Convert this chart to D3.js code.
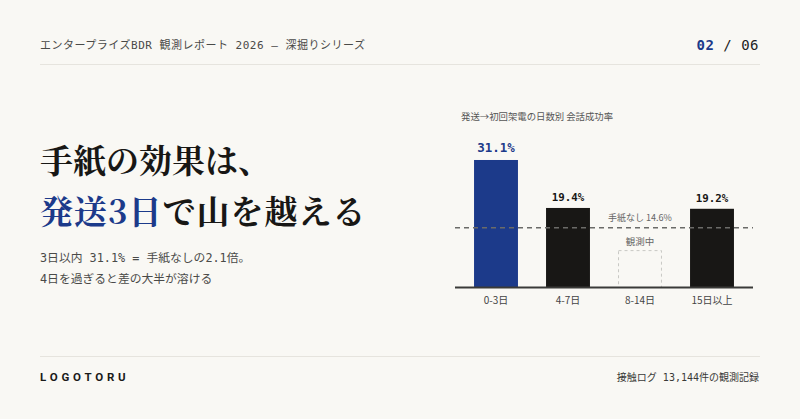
<!DOCTYPE html>
<html><head><meta charset="utf-8">
<script src="https://cdn.jsdelivr.net/npm/d3@7"></script>
<style>
html,body{margin:0;padding:0;background:#f9f8f4;}
svg{display:block;}
</style></head>
<body>
<svg id="c" width="800" height="419"></svg>
<script>
const categories = ["0-3日", "4-7日", "8-14日", "15日以上"];
const rates = [31.1, 19.4, null, 19.2];
const placeholderValue = 9.0;
const baselineRate = 14.6;
const valueLabels = ["31.1%", "19.4%", "", "19.2%"];
const highlight = [true, false, false, false];

const MONO = "'DejaVu Sans Mono','Noto Sans CJK JP',monospace";
const SANS = "'Noto Sans CJK JP','Noto Sans',sans-serif";
const SERIF = "'Noto Serif CJK JP','Noto Serif JP','Noto Sans CJK JP',serif";
const BLUE = "#1c3a8a", DARK = "#181715";

const svg = d3.select("#c");
svg.append("rect").attr("width",800).attr("height",419).attr("fill","#f9f8f4");

// header
svg.append("text").attr("x",40).attr("y",49).attr("font-family",MONO).attr("font-size",11)
  .attr("letter-spacing","0.5px").attr("fill","#4a4a48")
  .text("エンタープライズBDR 観測レポート 2026 — 深掘りシリーズ");
const pg = svg.append("text").attr("x",759).attr("y",50).attr("text-anchor","end")
  .attr("font-family",MONO).attr("font-size",14).attr("letter-spacing","0.5px");
pg.append("tspan").attr("fill",BLUE).attr("font-weight","bold").text("02");
pg.append("tspan").attr("fill","#222").text(" / 06");
svg.append("line").attr("x1",40).attr("x2",760).attr("y1",64.5).attr("y2",64.5)
  .attr("stroke","#e6e4de").attr("stroke-width",1);

// title
svg.append("text").attr("x",40).attr("y",173).attr("font-family",SERIF).attr("font-weight","bold")
  .attr("font-size",33).attr("fill",DARK).text("手紙の効果は、");
const t2 = svg.append("text").attr("x",40).attr("y",224).attr("font-family",SERIF)
  .attr("font-weight","bold").attr("font-size",33).attr("letter-spacing","1px");
t2.append("tspan").attr("fill",BLUE).text("発送3日");
t2.append("tspan").attr("fill",DARK).text("で山を越える");

svg.append("text").attr("x",40).attr("y",262).attr("font-family",MONO).attr("font-size",11.8)
  .attr("fill","#4a4a48").text("3日以内 31.1% = 手紙なしの2.1倍。");
svg.append("text").attr("x",40).attr("y",283).attr("font-family",MONO).attr("font-size",11.8)
  .attr("fill","#4a4a48").text("4日を過ぎると差の大半が溶ける");

// chart
svg.append("text").attr("x",461).attr("y",120).attr("font-family",SANS).attr("font-size",9.4)
  .attr("fill","#555").text("発送→初回架電の日数別 会話成功率");

const x = d3.scaleBand().domain(categories).range([460,748]).paddingInner(0.39).paddingOuter(0.195);
const y = d3.scaleLinear().domain([0,35]).range([287.5,144]);

const g = svg.append("g");
categories.forEach((c,i)=>{
  if (rates[i] == null) {
    g.append("rect").attr("x",x(c)+0.5).attr("y",y(placeholderValue))
      .attr("width",x.bandwidth()-1).attr("height",y(0)-y(placeholderValue))
      .attr("fill","none").attr("stroke","#c8c8c4").attr("stroke-width",1)
      .attr("stroke-dasharray","3,3");
    g.append("text").attr("x",x(c)+x.bandwidth()/2).attr("y",y(placeholderValue)-6)
      .attr("text-anchor","middle").attr("font-family",SANS).attr("font-size",9.5)
      .attr("fill","#666").text("観測中");
  } else {
    g.append("rect").attr("x",x(c)).attr("y",y(rates[i])).attr("width",x.bandwidth())
      .attr("height",y(0)-y(rates[i])).attr("fill",highlight[i]?BLUE:DARK);
    g.append("text").attr("x",x(c)+x.bandwidth()/2).attr("y",y(rates[i])-(highlight[i]?7.5:6.5))
      .attr("text-anchor","middle").attr("font-family",MONO).attr("font-weight","bold")
      .attr("font-size",highlight[i]?12.5:10.8).attr("fill",highlight[i]?BLUE:DARK)
      .text(valueLabels[i]);
  }
});

// baseline dashed
g.append("line").attr("x1",455).attr("x2",753).attr("y1",y(baselineRate)).attr("y2",y(baselineRate))
  .attr("stroke","#6b6b68").attr("stroke-width",1.5).attr("stroke-dasharray","5,4");
g.append("text").attr("x",x(categories[2])+x.bandwidth()/2).attr("y",y(baselineRate)-7)
  .attr("text-anchor","middle").attr("font-family",SANS).attr("font-size",9)
  .attr("fill","#666").text("手紙なし " + baselineRate + "%");

// axis
const ax = svg.append("g").attr("transform",`translate(0,${y(0)})`)
  .call(d3.axisBottom(x).tickSize(0).tickPadding(9));
ax.select(".domain").remove();
ax.selectAll("text").attr("font-family",SANS).attr("font-size",10).attr("fill","#444");
svg.append("line").attr("x1",455).attr("x2",753).attr("y1",y(0)).attr("y2",y(0))
  .attr("stroke","#3a3a38").attr("stroke-width",2);

// footer
svg.append("line").attr("x1",40).attr("x2",760).attr("y1",356.5).attr("y2",356.5)
  .attr("stroke","#e6e4de").attr("stroke-width",1);
svg.append("text").attr("x",40).attr("y",380.5).attr("font-family","Roboto,'DejaVu Sans',sans-serif")
  .attr("font-weight","bold").attr("font-size",11.5).attr("letter-spacing","3.8px")
  .attr("fill","#1a1a1a").text("LOGOTORU");
svg.append("text").attr("x",759).attr("y",381).attr("text-anchor","end").attr("font-family",MONO)
  .attr("font-size",10).attr("fill","#3a3a38").text("接触ログ 13,144件の観測記録");
</script>
</body></html>
